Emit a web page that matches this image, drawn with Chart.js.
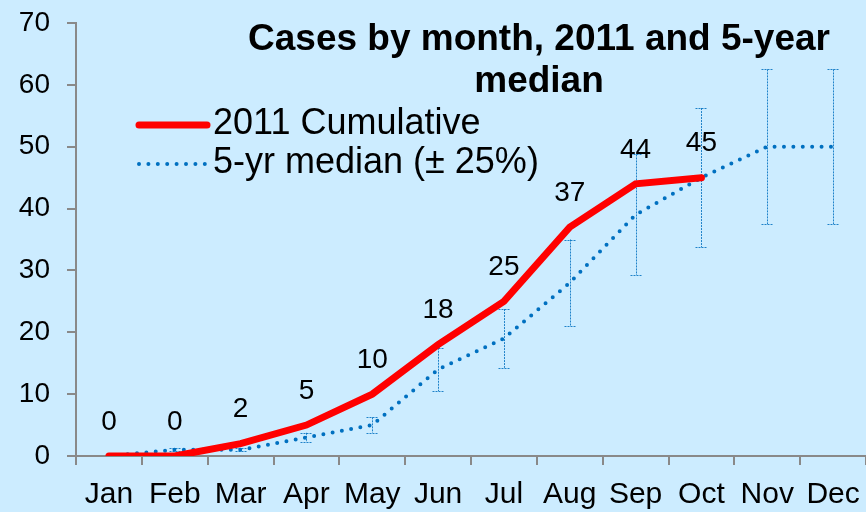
<!DOCTYPE html>
<html>
<head>
<meta charset="utf-8">
<script src="https://cdn.jsdelivr.net/npm/chart.js@4"></script>
<style>
  html,body{margin:0;padding:0;background:#CCECFF;}
  #wrap{width:866px;height:512px;}
</style>
</head>
<body>
<div id="wrap"><canvas id="c"></canvas></div>
<script>
const months = ["Jan","Feb","Mar","Apr","May","Jun","Jul","Aug","Sep","Oct","Nov","Dec"];
const cumul2011 = [0,0,2,5,10,18,25,37,44,45];
const median5yr = [0,1,1,3,5,14,19,28,39,45,50,50];
const errPct = 0.25;
const yTicks = [0,10,20,30,40,50,60,70];
const titleLines = ["Cases by month, 2011 and 5-year","median"];

const BG = "#CCECFF", RED = "#FF0000", BLUE = "#0070C0", AXIS = "#898989";
const FONT = "'Liberation Sans', Arial, sans-serif";

const bgPlugin = {
  id:"bg",
  beforeDraw(chart){
    const ctx = chart.ctx;
    ctx.save(); ctx.fillStyle = BG; ctx.fillRect(0,0,chart.width,chart.height); ctx.restore();
  }
};

// ±25% error bars on the median series, behind the lines
const errBars = {
  id:"errBars",
  beforeDatasetsDraw(chart){
    const {ctx, scales:{x,y}} = chart;
    ctx.save();
    ctx.strokeStyle = "rgba(0,112,192,0.85)";
    ctx.lineWidth = 1;
    ctx.setLineDash([2,1]);
    median5yr.forEach((v,i) => {
      const px = Math.round(x.getPixelForValue(i)) + 0.5;
      const top = y.getPixelForValue(v*(1+errPct));
      const bot = y.getPixelForValue(v*(1-errPct));
      if (bot - top < 1) return;
      ctx.beginPath();
      ctx.moveTo(px, top); ctx.lineTo(px, bot);
      ctx.moveTo(px-6, Math.round(top)+0.5); ctx.lineTo(px+6, Math.round(top)+0.5);
      ctx.moveTo(px-6, Math.round(bot)+0.5); ctx.lineTo(px+6, Math.round(bot)+0.5);
      ctx.stroke();
    });
    ctx.restore();
  }
};

// value labels above the 2011 points
const valLabels = {
  id:"valLabels",
  afterDatasetsDraw(chart){
    const {ctx, scales:{x,y}} = chart;
    ctx.save();
    ctx.font = `28px ${FONT}`;
    ctx.fillStyle = "#000";
    ctx.textAlign = "center"; ctx.textBaseline = "middle";
    cumul2011.forEach((v,i) => {
      ctx.fillText(String(v), x.getPixelForValue(i), y.getPixelForValue(v) - 34);
    });
    ctx.restore();
  }
};

// title + legend drawn inside the plot area
const overlay = {
  id:"overlay",
  afterDraw(chart){
    const ctx = chart.ctx;
    ctx.save();
    ctx.fillStyle = "#000";
    ctx.textAlign = "center"; ctx.textBaseline = "alphabetic";
    ctx.font = `bold 37px ${FONT}`;
    ctx.fillText(titleLines[0], 539, 50);
    ctx.fillText(titleLines[1], 539, 92);

    const ds = chart.data.datasets;
    ctx.lineCap = "round";
    ctx.strokeStyle = RED; ctx.lineWidth = 7;
    ctx.beginPath(); ctx.moveTo(139,125); ctx.lineTo(207,125); ctx.stroke();
    ctx.strokeStyle = BLUE; ctx.lineWidth = 4; ctx.setLineDash([0,9.4]);
    ctx.beginPath(); ctx.moveTo(139,164); ctx.lineTo(207,164); ctx.stroke();
    ctx.setLineDash([]);
    ctx.textAlign = "left"; ctx.textBaseline = "middle";
    ctx.font = `36px ${FONT}`;
    ctx.fillText(ds[0].label, 213, 124);
    ctx.fillText(ds[1].label, 213, 163);
    ctx.restore();
  }
};

new Chart(document.getElementById("c"), {
  type:"line",
  data:{
    labels: months,
    datasets:[
      {label:"2011 Cumulative", data:cumul2011, borderColor:RED, borderWidth:7,
       borderCapStyle:"round", borderJoinStyle:"miter", pointRadius:0, tension:0, order:0},
      {label:"5-yr median (± 25%)", data:median5yr, borderColor:BLUE, borderWidth:4,
       borderDash:[0,9.4], borderCapStyle:"round", pointRadius:0, tension:0, order:1},
    ],
  },
  options:{
    responsive:true, maintainAspectRatio:false, animation:false,
    layout:{padding:{top:23,left:0,right:0,bottom:0}},
    plugins:{legend:{display:false}, tooltip:{enabled:false}, title:{display:false}},
    scales:{
      x:{
        offset:true,
        grid:{offset:true, drawOnChartArea:false, tickLength:9, color:AXIS, lineWidth:2},
        border:{color:AXIS, width:2},
        ticks:{color:"#000", font:{family:FONT, size:30}, padding:12, maxRotation:0, autoSkip:false},
        afterFit(s){ s.height = 56; s.paddingLeft = 0; s.paddingRight = 0; },
      },
      y:{
        min:0, max:70,
        afterBuildTicks(s){ s.ticks = yTicks.map(v => ({value:v})); },
        grid:{drawOnChartArea:false, tickLength:9, color:AXIS, lineWidth:2},
        border:{color:AXIS, width:2},
        ticks:{color:"#000", font:{family:FONT, size:28}, padding:17},
        afterFit(s){ s.width = 76; s.paddingTop = 0; s.paddingBottom = 0; },
      },
    },
  },
  plugins:[bgPlugin, errBars, valLabels, overlay],
});
</script>
</body>
</html>
